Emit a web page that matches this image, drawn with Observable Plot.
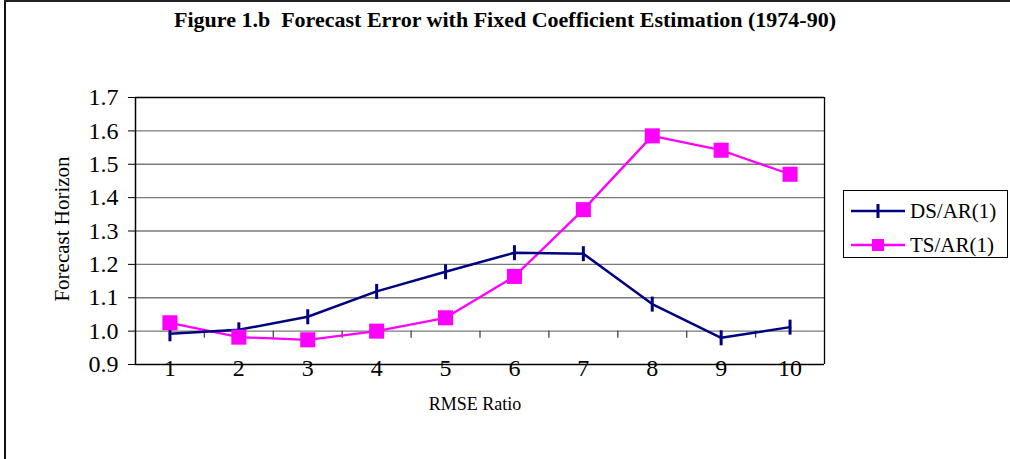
<!DOCTYPE html>
<html>
<head>
<meta charset="utf-8">
<script src="https://cdn.jsdelivr.net/npm/d3@7"></script>
<script src="https://cdn.jsdelivr.net/npm/@observablehq/plot@0.6"></script>
<style>
  html, body { margin: 0; padding: 0; background: #fff; }
  #wrap { position: relative; width: 1010px; height: 459px; overflow: hidden; font-family: "Liberation Serif", "Times New Roman", serif; }
  #chart { position: absolute; left: 0; top: 0; }
  #title { position: absolute; left: 0; width: 1010px; top: 7px; text-align: center; font-weight: bold; font-size: 22px; color: #000; white-space: pre; }
  #bl { position: absolute; left: 4px; top: 0; width: 2px; height: 459px; background: #111; }
  #bt { position: absolute; left: 4px; top: 0; width: 1006px; height: 2px; background: #222; }
  #legend { position: absolute; left: 843px; top: 190px; width: 163px; height: 66px; border: 1px solid #000; background: #fff; }
  .lrow { position: absolute; left: 0; height: 30px; display: flex; align-items: center; font-size: 21px; color: #000; }
  .lrow svg { display: block; margin-left: 7px; margin-right: 5px; }
</style>
</head>
<body>
<div id="wrap">
  <div id="chart"></div>
  <div id="bl"></div>
  <div id="bt"></div>
  <div id="title"></div>
  <div id="legend"></div>
</div>
<script>
// ---- data ----
const titleText = "Figure 1.b  Forecast Error with Fixed Coefficient Estimation (1974-90)";
const xLabel = "RMSE Ratio";
const yLabel = "Forecast Horizon";
const categories = [1, 2, 3, 4, 5, 6, 7, 8, 9, 10];
const dsValues = [0.992, 1.004, 1.043, 1.119, 1.178, 1.235, 1.232, 1.081, 0.980, 1.012];
const tsValues = [1.025, 0.982, 0.974, 1.000, 1.040, 1.164, 1.364, 1.585, 1.542, 1.470];
const seriesNames = ["DS/AR(1)", "TS/AR(1)"];
const seriesColors = ["#000080", "#FF00FF"];
const yTicks = [0.9, 1.0, 1.1, 1.2, 1.3, 1.4, 1.5, 1.6, 1.7];
const xBoundaries = [1.5, 2.5, 3.5, 4.5, 5.5, 6.5, 7.5, 8.5, 9.5];
const xAxisCross = 1.0;
const xTickBottom = 0.979;

const dsData = categories.map((c, i) => ({h: c, v: dsValues[i]}));
const tsData = categories.map((c, i) => ({h: c, v: tsValues[i]}));

const vTick = {
  draw(ctx, size) {
    const r = Math.sqrt(size / Math.PI);
    ctx.moveTo(0, -r);
    ctx.lineTo(0, r);
  }
};

const chart = Plot.plot({
  width: 1010,
  height: 459,
  marginLeft: 135,
  marginRight: 186,
  marginTop: 97,
  marginBottom: 95,
  style: {fontFamily: "'Liberation Serif', 'Times New Roman', serif", background: "transparent", color: "#000"},
  x: {type: "linear", domain: [0.5, 10.5], axis: null},
  y: {domain: [0.9, 1.7], axis: null},
  marks: [
    Plot.ruleY(yTicks.slice(1, -1), {stroke: "#7a7a7a", strokeWidth: 1.3}),
    Plot.ruleY([yTicks[0], yTicks[yTicks.length - 1]], {stroke: "#000", strokeWidth: 1.3}),
    Plot.ruleX([0.5], {stroke: "#000", strokeWidth: 1.5}),
    Plot.ruleX([10.5], {stroke: "#000", strokeWidth: 1.3}),
    Plot.ruleX(xBoundaries, {y1: xAxisCross, y2: xTickBottom, stroke: "#444", strokeWidth: 1.3}),
    Plot.axisY({ticks: yTicks, tickSize: 7, tickPadding: 10, fontSize: 24, tickFormat: d3.format(".1f"), label: null, stroke: "#000"}),
    Plot.text(categories, {x: d => d, frameAnchor: "bottom", lineAnchor: "middle", dy: 4, fontSize: 24, text: d => String(d), fill: "#000"}),
    Plot.text([xLabel], {frameAnchor: "bottom", textAnchor: "middle", dx: -5, dy: 45, fontSize: 18, text: d => d, fill: "#000"}),
    Plot.text([yLabel], {frameAnchor: "left", textAnchor: "middle", dx: -73, dy: -2, rotate: -90, fontSize: 21, text: d => d, fill: "#000"}),
    Plot.line(tsData, {x: "h", y: "v", stroke: seriesColors[1], strokeWidth: 2.3}),
    Plot.line(dsData, {x: "h", y: "v", stroke: seriesColors[0], strokeWidth: 2.5}),
    Plot.dot(dsData, {x: "h", y: "v", symbol: vTick, r: 7.5, stroke: seriesColors[0], strokeWidth: 3}),
    Plot.dot(tsData, {x: "h", y: "v", symbol: "square", r: 8.5, fill: seriesColors[1], stroke: "none"})
  ]
});
document.getElementById("chart").appendChild(chart);
document.getElementById("title").textContent = titleText;

// legend
const legend = document.getElementById("legend");
seriesNames.forEach((name, i) => {
  const row = document.createElement("div");
  row.className = "lrow";
  row.style.top = (i === 0 ? 5 : 39) + "px";
  const svg = d3.create("svg").attr("width", 54).attr("height", 20);
  svg.append("line").attr("x1", 0).attr("x2", 54).attr("y1", 10).attr("y2", 10)
    .attr("stroke", seriesColors[i]).attr("stroke-width", 2.5);
  if (i === 0) {
    svg.append("line").attr("x1", 27).attr("x2", 27).attr("y1", 3).attr("y2", 17)
      .attr("stroke", seriesColors[i]).attr("stroke-width", 3);
  } else {
    svg.append("rect").attr("x", 21).attr("y", 4).attr("width", 12).attr("height", 12)
      .attr("fill", seriesColors[i]);
  }
  row.appendChild(svg.node());
  const span = document.createElement("span");
  span.textContent = name;
  row.appendChild(span);
  legend.appendChild(row);
});
</script>
</body>
</html>
